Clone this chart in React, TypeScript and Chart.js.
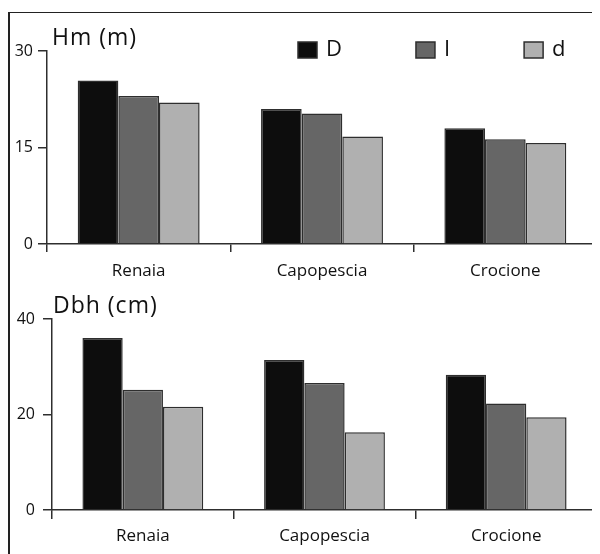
import React, { useEffect, useRef } from "react";
import { Chart, registerables } from "chart.js";

Chart.register(...registerables);

const categories = ["Renaia", "Capopescia", "Crocione"];
const seriesLabels = ["D", "I", "d"];
const seriesColors = ["#0d0d0d", "#666666", "#b0b0b0"];

const hmD = [25.4, 21.0, 18.0];
const hmI = [23.0, 20.3, 16.3];
const hmd = [22.0, 16.7, 15.7];

const dbhD = [36.0, 31.4, 28.3];
const dbhI = [25.2, 26.6, 22.3];
const dbhd = [21.6, 16.3, 19.4];

const hmTicks = [0, 15, 30];
const dbhTicks = [0, 20, 40];

const FONT = "'Open Sans', 'DejaVu Sans', sans-serif";
const AXIS = "#2e2e2e";

type Cfg = {
  values: number[][];
  ticks: number[];
  title: string;
  titleX: number;
  titleY: number;
  legend: boolean;
  yWidth: number;
  xHeight: number;
  padTop: number;
  yTickLen: number;
  yPad: number;
  xTickLen: number;
  xPad: number;
};

const titlePlugin = {
  id: "customTitle",
  afterDraw(chart: any, _args: any, opts: any) {
    const ctx = chart.ctx;
    ctx.save();
    ctx.fillStyle = "#111";
    ctx.font = `23px ${FONT}`;
    ctx.textBaseline = "alphabetic";
    ctx.textAlign = "left";
    try {
      (ctx as any).letterSpacing = "1px";
    } catch (e) {}
    ctx.fillText(opts.text, opts.x, opts.y);
    try {
      (ctx as any).letterSpacing = "0px";
    } catch (e) {}
    if (opts.legend) {
      ctx.font = `22px ${FONT}`;
      let x = 290;
      const boxW = 19;
      const boxH = 16;
      const boxTop = 34;
      const baseline = 48;
      chart.data.datasets.forEach((ds: any) => {
        ctx.fillStyle = ds.backgroundColor;
        ctx.fillRect(x, boxTop, boxW, boxH);
        ctx.strokeStyle = AXIS;
        ctx.lineWidth = 1.5;
        ctx.strokeRect(x, boxTop, boxW, boxH);
        ctx.fillStyle = "#111";
        const tx = x + boxW + 9;
        ctx.fillText(ds.label, tx, baseline);
        x = tx + ctx.measureText(ds.label).width + 74;
      });
    }
    ctx.restore();
  },
};

function BarPanel({ cfg, height }: { cfg: Cfg; height: number }) {
  const ref = useRef<HTMLCanvasElement | null>(null);
  useEffect(() => {
    if (!ref.current) return;
    const chart = new Chart(ref.current, {
      type: "bar",
      data: {
        labels: categories,
        datasets: cfg.values.map((v, i) => ({
          label: seriesLabels[i],
          data: v,
          backgroundColor: seriesColors[i],
          borderColor: AXIS,
          borderWidth: 1.5,
          borderSkipped: "bottom" as const,
          categoryPercentage: 0.665,
          barPercentage: 1.0,
        })),
      },
      plugins: [titlePlugin],
      options: {
        animation: false,
        responsive: false,
        maintainAspectRatio: false,
        layout: { padding: { top: cfg.padTop, right: 3, bottom: 0, left: 0 } },
        plugins: {
          legend: { display: false },
          tooltip: { enabled: false },
          customTitle: {
            text: cfg.title,
            x: cfg.titleX,
            y: cfg.titleY,
            legend: cfg.legend,
          },
        } as any,
        scales: {
          x: {
            offset: true,
            grid: {
              offset: true,
              drawOnChartArea: false,
              drawTicks: true,
              tickLength: cfg.xTickLen,
              color: AXIS,
              lineWidth: 1.5,
            },
            border: { display: true, color: AXIS, width: 1.5 },
            ticks: {
              color: "#111",
              font: { family: FONT, size: 17 },
              padding: cfg.xPad,
              maxRotation: 0,
            },
            afterFit: (s: any) => {
              s.height = cfg.xHeight;
            },
          },
          y: {
            min: cfg.ticks[0],
            max: cfg.ticks[cfg.ticks.length - 1],
            afterBuildTicks: (s: any) => {
              s.ticks = cfg.ticks.map((v) => ({ value: v }));
            },
            grid: {
              drawOnChartArea: false,
              drawTicks: true,
              tickLength: cfg.yTickLen,
              color: AXIS,
              lineWidth: 1.5,
            },
            border: { display: true, color: AXIS, width: 1.5 },
            ticks: {
              color: "#111",
              font: { family: FONT, size: 16 },
              padding: cfg.yPad,
            },
            afterFit: (s: any) => {
              s.width = cfg.yWidth;
            },
          },
        },
      },
    });
    return () => chart.destroy();
  }, []);
  return <canvas ref={ref} width={592} height={height} style={{ display: "block", width: 592, height }} />;
}

export default function App() {
  const top: Cfg = {
    values: [hmD, hmI, hmd],
    ticks: hmTicks,
    title: "Hm (m)",
    titleX: 44,
    titleY: 37,
    legend: true,
    yWidth: 39,
    xHeight: 36,
    padTop: 43,
    yTickLen: 9,
    yPad: 5,
    xTickLen: 8,
    xPad: 9,
  };
  const bottom: Cfg = {
    values: [dbhD, dbhI, dbhd],
    ticks: dbhTicks,
    title: "Dbh (cm)",
    titleX: 45,
    titleY: 33,
    legend: false,
    yWidth: 44,
    xHeight: 44,
    padTop: 39,
    yTickLen: 9,
    yPad: 8,
    xTickLen: 9,
    xPad: 7,
  };
  return (
    <div style={{ position: "relative", width: 592, height: 546 }}>
      <div
        style={{
          position: "absolute",
          left: 0,
          top: 4,
          right: 0,
          bottom: 0,
          borderLeft: "2px solid #222",
          borderTop: "1.5px solid #222",
        }}
      />
      <div style={{ position: "absolute", left: 0, top: 0 }}>
        <BarPanel cfg={top} height={272} />
      </div>
      <div style={{ position: "absolute", left: 0, top: 272 }}>
        <BarPanel cfg={bottom} height={274} />
      </div>
    </div>
  );
}
